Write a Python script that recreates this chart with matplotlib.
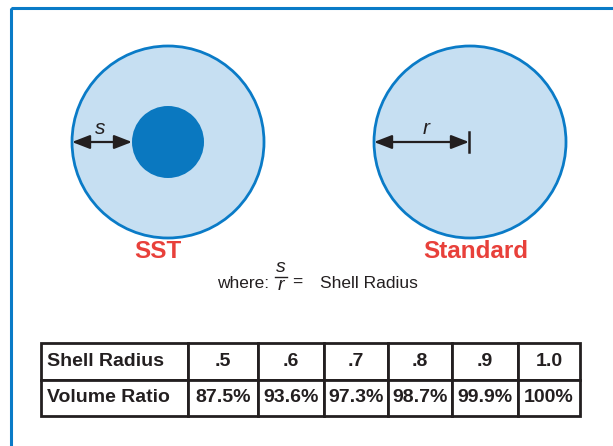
import matplotlib
matplotlib.use("Agg")
import matplotlib.pyplot as plt
from matplotlib.patches import Circle, FancyArrowPatch, Rectangle

plt.rcParams["font.family"] = ["Liberation Sans", "DejaVu Sans"]

# Table data
row_labels = ["Shell Radius", "Volume Ratio"]
shell_radius = [".5", ".6", ".7", ".8", ".9", "1.0"]
volume_ratio = ["87.5%", "93.6%", "97.3%", "98.7%", "99.9%", "100%"]

# Diagram labels
left_title = "SST"
right_title = "Standard"

blue_edge = "#0a7bc7"
blue_fill = "#c6dff2"
blue_core = "#0a78c0"
red = "#e8403a"
ink = "#231f20"

W, H = 613, 446
fig = plt.figure(figsize=(W / 100, H / 100), dpi=100)
ax = fig.add_axes([0, 0, 1, 1])
ax.set_xlim(0, W)
ax.set_ylim(H, 0)
ax.axis("off")

# outer frame (only top and left edges visible)
ax.add_patch(Rectangle((10.5, 8), 700, 500, fill=False, ec=blue_edge, lw=2.2))

# SST circle with core
ax.add_patch(Circle((168, 142), 96, fc=blue_fill, ec=blue_edge, lw=2))
ax.add_patch(Circle((168, 142), 36, fc=blue_core, ec="none"))
ax.add_patch(FancyArrowPatch((72, 142), (132, 142),
                             arrowstyle="<|-|>,head_length=0.9,head_width=0.35",
                             mutation_scale=12, color=ink, lw=1.6,
                             shrinkA=0, shrinkB=0))
ax.text(100, 128, "s", fontsize=15, style="italic", color=ink,
        ha="center", va="center")
ax.text(158, 251, left_title, fontsize=17.5, fontweight="bold", color=red,
        ha="center", va="center")

# Standard circle
ax.add_patch(Circle((470, 142), 96, fc=blue_fill, ec=blue_edge, lw=2))
ax.add_patch(FancyArrowPatch((374, 142), (469, 142),
                             arrowstyle="<|-|>,head_length=0.9,head_width=0.35",
                             mutation_scale=12, color=ink, lw=1.6,
                             shrinkA=0, shrinkB=0))
ax.plot([469, 469], [132, 152], color=ink, lw=1.8)
ax.text(426, 128, "r", fontsize=15, style="italic", color=ink,
        ha="center", va="center")
ax.text(476, 251, right_title, fontsize=17.5, fontweight="bold", color=red,
        ha="center", va="center")

# where: s/r = Shell Radius
ax.text(217, 283, "where:", fontsize=12.5, color=ink, ha="left", va="center")
ax.text(280.5, 268, "s", fontsize=14, style="italic", color=ink,
        ha="center", va="center")
ax.plot([275, 287], [277, 277], color=ink, lw=1)
ax.text(280.5, 286, "r", fontsize=14, style="italic", color=ink,
        ha="center", va="center")
ax.text(297, 282, "=", fontsize=12.5, color=ink, ha="center", va="center")
ax.text(320, 283, "Shell Radius", fontsize=12.5, color=ink,
        ha="left", va="center")

# table
edges = [41, 188, 258, 324, 388, 452, 518, 580]
widths = [(b - a) / W for a, b in zip(edges[:-1], edges[1:])]
top, bottom = 343, 416
cells = [[row_labels[0]] + shell_radius, [row_labels[1]] + volume_ratio]
tbl = ax.table(cellText=cells, colWidths=widths, cellLoc="center",
               bbox=[edges[0] / W, (H - bottom) / H,
                     (edges[-1] - edges[0]) / W, (bottom - top) / H])
tbl.auto_set_font_size(False)
for (r, c), cell in tbl.get_celld().items():
    cell.set_edgecolor(ink)
    cell.set_linewidth(2)
    cell.set_facecolor("white")
    txt = cell.get_text()
    txt.set_fontsize(14)
    txt.set_fontweight("bold")
    txt.set_color(ink)
    if c == 0:
        cell.set_text_props(ha="left")
        cell.PAD = 0.04

fig.savefig("out.png", dpi=100)
